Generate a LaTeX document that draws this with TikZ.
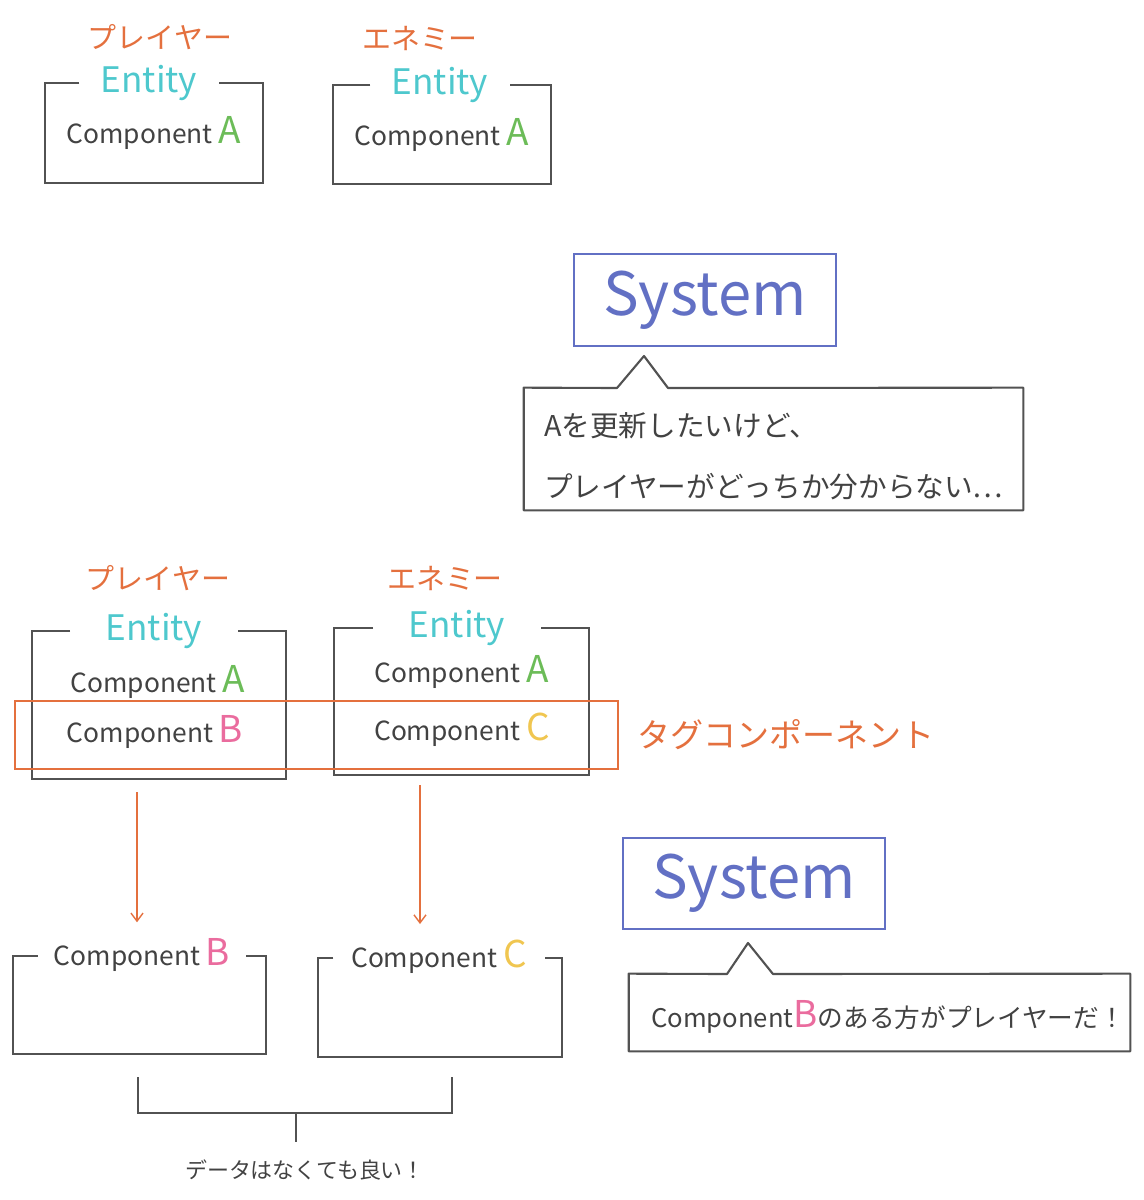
\documentclass[tikz,border=0pt]{standalone}
\usepackage{fontspec}
\setmainfont{Noto Sans CJK JP}
\usetikzlibrary{arrows.meta, positioning}

\definecolor{orangeC}{RGB}{228,112,62}
\definecolor{cyanC}{RGB}{78,200,205}
\definecolor{greenC}{RGB}{108,188,88}
\definecolor{pinkC}{RGB}{234,108,158}
\definecolor{yellowC}{RGB}{240,198,80}
\definecolor{blueC}{RGB}{98,112,196}
\definecolor{lineC}{RGB}{82,82,82}
\definecolor{inkC}{RGB}{66,66,66}

\newcommand{\completter}[2]{\textcolor{#1}{\fontsize{21}{21}\selectfont #2}}
\newcommand{\gapframe}[2]{\draw[frame] (#2.west |- #1.north) -- (#1.north west) -- (#1.south west) -- (#1.south east) -- (#1.north east) -- (#2.east |- #1.north);}

\begin{document}
\begin{tikzpicture}[
    x=0.02cm, y=-0.02cm,
    node distance=0.25cm,
    frame/.style={draw=lineC, line width=1.2pt},
    box/.style={rectangle, inner sep=0pt, align=center},
    sysbox/.style={rectangle, draw=blueC, line width=1.2pt, text=blueC, font=\fontsize{34}{40}\selectfont},
    entlbl/.style={inner xsep=12pt, text=cyanC, font=\fontsize{20}{24}\selectfont},
    namelbl/.style={text=orangeC, font=\fontsize{16.5}{20}\selectfont},
    comp/.style={text=inkC, font=\fontsize{15}{18}\selectfont},
    complbl/.style={comp, inner xsep=9pt},
    note/.style={text=inkC, align=left, font=\fontsize{16.3}{35}\selectfont},
    tag/.style={rectangle, draw=orangeC, line width=1.1pt, inner sep=0pt},
    arrow/.style={-{Straight Barb[length=1.6mm, width=2.4mm]}, draw=orangeC, line width=0.8pt},
]
    \useasboundingbox (0,0) rectangle (1143,1200);

    % Upper entities
    \node[box, comp, minimum width=4.36cm, minimum height=2cm] (ent1) at (154,133) {Component \completter{greenC}{A}};
    \node[entlbl] (ent1lbl) at (149,83) {Entity};
    \node[namelbl] (ent1name) at (160,37) {プレイヤー};
    \gapframe{ent1}{ent1lbl}

    \node[box, comp, minimum width=4.36cm, minimum height=1.98cm] (ent2) at (442,134.5) {Component \completter{greenC}{A}};
    \node[entlbl] (ent2lbl) at (440,85) {Entity};
    \node[namelbl] (ent2name) at (420,38) {エネミー};
    \gapframe{ent2}{ent2lbl}

    % Upper system
    \node[sysbox, minimum width=5.24cm, minimum height=1.84cm] (sys1) at (705,300) {System};

    \node[box, minimum width=9.98cm, minimum height=2.44cm] (call1) at (773.5,449) {};
    \node[note, anchor=west] (call1txt) at (538,456) {Aを更新したいけど、\\プレイヤーがどっちか分からない…};
    \draw[frame, line join=round] (644,356) -- (617,388) -- (call1.north west) -- (call1.south west) -- (call1.south east) -- (call1.north east) -- (668,388) -- cycle;

    % Lower entities
    \node[box, minimum width=5.08cm, minimum height=2.96cm] (ent3) at (159,705) {};
    \node[entlbl, inner xsep=20pt] (ent3lbl) at (154,631) {Entity};
    \node[namelbl] (ent3name) at (158,578) {プレイヤー};
    \node[comp] (ent3a) at (158,682) {Component \completter{greenC}{A}};
    \node[comp] (ent3b) at (155,732) {Component \completter{pinkC}{B}};
    \gapframe{ent3}{ent3lbl}

    \node[box, minimum width=5.1cm, minimum height=2.94cm] (ent4) at (461.5,701.5) {};
    \node[entlbl, inner xsep=20pt] (ent4lbl) at (457,628) {Entity};
    \node[namelbl] (ent4name) at (445,578) {エネミー};
    \node[comp] (ent4a) at (462,672) {Component \completter{greenC}{A}};
    \node[comp] (ent4c) at (462,730) {Component \completter{yellowC}{C}};
    \gapframe{ent4}{ent4lbl}

    % Tag components
    \node[tag, minimum width=12.06cm, minimum height=1.36cm] (tag) at (316.5,735) {};
    \node[namelbl, font=\fontsize{18.8}{22}\selectfont, right=of tag] (taglbl) {タグコンポーネント};

    % Component storages
    \node[box, minimum width=5.06cm, minimum height=1.96cm] (cbbox) at (139.5,1005) {};
    \node[complbl] (cblbl) at (142,955) {Component \completter{pinkC}{B}};
    \gapframe{cbbox}{cblbl}

    \node[box, minimum width=4.88cm, minimum height=1.98cm] (ccbox) at (440,1007.5) {};
    \node[complbl, inner xsep=10pt] (cclbl) at (439,957) {Component \completter{yellowC}{C}};
    \gapframe{ccbox}{cclbl}

    \draw[arrow, shorten <=0.26cm, shorten >=0.2cm] (ent3.south -| 137,0) -- (cblbl.north -| 137,0);
    \draw[arrow, shorten <=0.2cm, shorten >=0.2cm] (ent4.south -| 420,0) -- (cclbl.north -| 420,0);

    % Bracket + note
    \coordinate (brl) at (138,1077);
    \coordinate (brr) at (452,1077);
    \coordinate (brmid) at (296,1113);
    \coordinate (brend) at (296,1142);
    \node[comp, font=\fontsize{12.5}{15}\selectfont] (datanote) at (305,1170) {データはなくても良い！};
    \draw[frame] (brl) -- ++(0,36) -| (brr);
    \draw[frame] (brmid) -- (brend);

    % Lower system
    \node[sysbox, minimum width=5.24cm, minimum height=1.82cm] (sys2) at (754,883.5) {System};

    \node[box, minimum width=10.02cm, minimum height=1.54cm] (call2) at (879.5,1012.5) {};
    \node[comp, font=\fontsize{14.6}{18}\selectfont] (call2txt) at (888,1017) {Component\completter{pinkC}{B}のある方がプレイヤーだ！};
    \draw[frame, line join=round] (748,943) -- (727,974) -- (call2.north west) -- (call2.south west) -- (call2.south east) -- (call2.north east) -- (773,974) -- cycle;
\end{tikzpicture}
\end{document}
